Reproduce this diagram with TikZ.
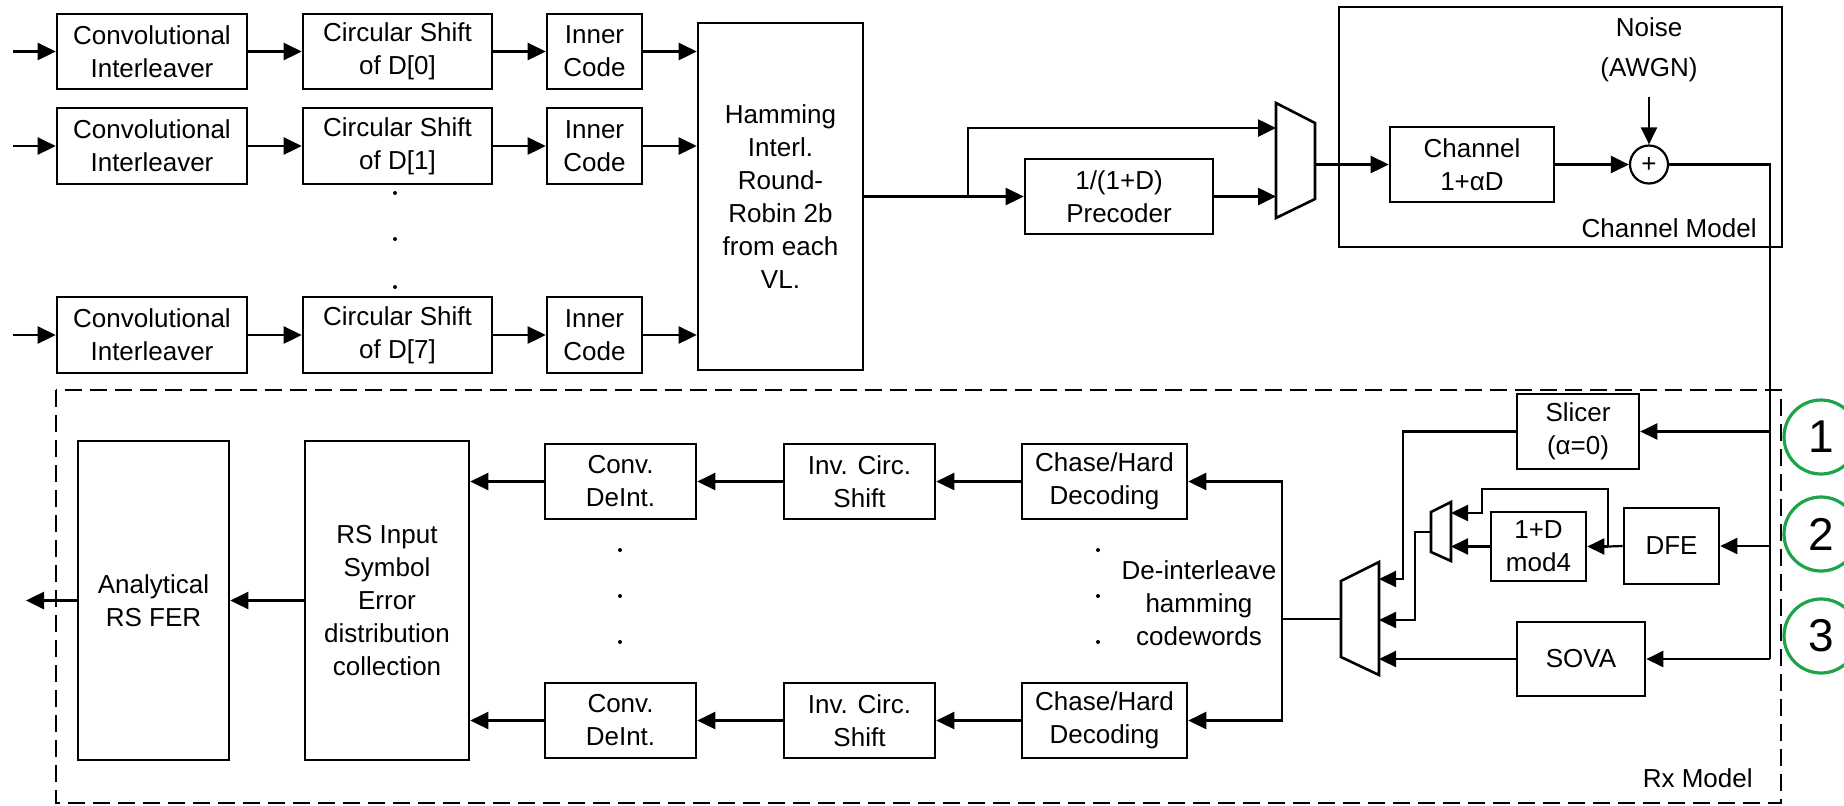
\documentclass[tikz,border=0pt]{standalone}
\usepackage{fontspec}
\setmainfont{Liberation Sans}
\usetikzlibrary{arrows.meta}
\newcommand\myfs{\fontsize{13}{16.5}\selectfont}
\newcommand\bigfs{\fontsize{23}{27}\selectfont}
\begin{document}
\begin{tikzpicture}[x=0.5pt,y=-0.5pt,
  blk/.style={draw,line width=1.3pt,inner sep=0pt,align=center,font=\myfs},
  wh/.style 2 args={minimum width={#1*0.5pt},minimum height={#2*0.5pt}},
  lbl/.style={inner sep=0pt,align=center,font=\myfs},
  ln/.style={line width=1.3pt},
  thin/.style={line width=1.1pt},
  ar/.style={line width=1.3pt,-{Triangle[length=9pt,width=8.5pt]}},
  art/.style={line width=1.1pt,-{Triangle[length=8.5pt,width=8pt]}},
  mux/.style={line width=1.3pt,line join=miter},
  num/.style={draw=numgreen,circle,line width=1.6pt,minimum size=37pt,inner sep=0pt,font=\bigfs},
  dot/.style={fill=black}]
\definecolor{numgreen}{RGB}{28,165,72}
\useasboundingbox (0,0) rectangle (1844,805);

% ---------------- transmitter rows
\node[blk,wh={190}{75}] (conv1) at (152,51.5) {Convolutional\\Interleaver};
\node[blk,wh={190}{76}] (conv2) at (152,146) {Convolutional\\Interleaver};
\node[blk,wh={190}{76}] (conv3) at (152,335) {Convolutional\\Interleaver};
\node[blk,wh={189}{75}] (cs1) at (397.5,51.5) {Circular Shift\\of D[0]};
\node[blk,wh={189}{76}] (cs2) at (397.5,146) {Circular Shift\\of D[1]};
\node[blk,wh={189}{76}] (cs3) at (397.5,335) {Circular Shift\\of D[7]};
\node[blk,wh={95}{75}] (ic1) at (594.5,51.5) {Inner\\Code};
\node[blk,wh={95}{76}] (ic2) at (594.5,146) {Inner\\Code};
\node[blk,wh={95}{76}] (ic3) at (594.5,335) {Inner\\Code};
\node[blk,wh={165}{347}] (ham) at (780.5,196.5) {Hamming\\Interl.\\Round-\\Robin 2b\\from each\\VL.};

\foreach \i in {1,2,3}{
  \coordinate (in\i) at (13,0 |- conv\i.west);
  \draw[ar] (in\i) -- (conv\i.west);
  \draw[ar] (conv\i.east) -- (cs\i.west);
  \draw[ar] (cs\i.east) -- (ic\i.west);
  \draw[ar] (ic\i.east) -- (ic\i.east -| ham.west);
}
\fill[dot] (395,193) circle (2);
\fill[dot] (395,239) circle (2);
\fill[dot] (395,287) circle (2);

% precoder and tx mux
\node[blk,wh={188}{75}] (prec) at (1119,196.5) {1/(1+D)\\Precoder};
\draw[mux] (1276,103) -- (1315,123) -- (1315,199) -- (1276,218) -- cycle;
\coordinate (mtA) at (1276,128);
\coordinate (mtB) at (1276,196.5);
\coordinate (mtO) at (1315,164.5);
\coordinate (br) at (968,196.5);
\draw[ln] (ham.east) -- (br);
\draw[ar] (br) -- (prec.west);
\draw[ar] (br) |- (mtA);
\draw[ar] (prec.east) -- (mtB);

% channel model
\node[draw,line width=1.3pt,inner sep=0pt,wh={443}{240}] (chm) at (1560.5,127) {};
\node[blk,wh={164}{75}] (chan) at (1472,164.5) {Channel\\1+αD};
\node[draw,circle,line width=1.1pt,minimum size=19pt,inner sep=0pt,font=\myfs] (sum) at (1649,164.5) {+};
\node[lbl] (noise) at (1649,50) {Noise\\[3.5pt](AWGN)};
\coordinate (nz) at (1649,97);
\node[lbl,anchor=east] (chmlbl) at (1757,228) {Channel Model};
\draw[ar] (mtO) -- (chan.west);
\draw[ar] (chan.east) -- (sum.west);
\draw[art] (nz) -- (sum.north);
\coordinate (tr) at (1770,164.5);
\coordinate (bt) at (1770,659);
\draw[ln] (sum.east) -- (tr) -- (bt);

% ---------------- receiver
\draw[dashed,line width=1.2pt,dash pattern=on 8.5pt off 4pt] (56,390) rectangle (1781,803);
\node[lbl,anchor=east] (rxlbl) at (1753,778) {Rx Model};

\node[blk,wh={122}{75}] (slicer) at (1578,431.5) {Slicer\\(α=0)};
\node[blk,wh={95}{76}] (dfe) at (1671.5,546) {DFE};
\node[blk,wh={95}{69}] (mod4) at (1538.5,546.5) {1+D\\mod4};
\node[blk,wh={128}{74}] (sova) at (1581,659) {SOVA};

\draw[art] (slicer.east -| tr) -- (slicer.east);
\draw[art] (dfe.east -| tr) -- (dfe.east);
\draw[art] (sova.east -| tr) -- (sova.east);

% big mux
\draw[mux] (1341,581) -- (1379,562) -- (1379,675) -- (1341,657) -- cycle;
\coordinate (mbA) at (1379,579);
\coordinate (mbB) at (1379,620);
\coordinate (mbC) at (1379,659);
\coordinate (mbO) at (1341,619);
% small mux
\draw[mux] (1431,512) -- (1451,502) -- (1451,561) -- (1431,552) -- cycle;
\coordinate (msA) at (1451,513);
\coordinate (msB) at (1451,546.5);
\coordinate (msO) at (1431,532);

\draw[art] (slicer.west) -| (1403,579) -- (mbA);
\draw[art] (msO) -| (1415,620) -- (mbB);
\draw[art] (sova.west) -- (mbC);
\coordinate (dj) at (1608,546.5);
\draw[thin] (dfe.west) -- (dj);
\draw[art] (dj) -- (mod4.east);
\draw[art] (dj) -- (1608,489) -| (1482,513) -- (msA);
\draw[art] (mod4.west) -- (msB);

% decoders
\node[blk,wh={165}{75}] (ch1) at (1104.5,481.5) {Chase/Hard\\Decoding};
\node[blk,wh={165}{75}] (ch2) at (1104.5,720.5) {Chase/Hard\\Decoding};
\node[blk,wh={151}{75}] (inv1) at (859.5,481.5) {Inv. Circ.\\Shift};
\node[blk,wh={151}{75}] (inv2) at (859.5,720.5) {Inv. Circ.\\Shift};
\node[blk,wh={151}{75}] (cd1) at (620.5,481.5) {Conv.\\DeInt.};
\node[blk,wh={151}{75}] (cd2) at (620.5,720.5) {Conv.\\DeInt.};
\node[blk,wh={164}{319}] (rs) at (387,600.5) {RS Input\\Symbol\\Error\\distribution\\collection};
\node[blk,wh={151}{319}] (an) at (153.5,600.5) {Analytical\\RS FER};
\node[lbl] (deint) at (1199,603) {De-interleave\\hamming\\codewords};

\coordinate (jn) at (1282,619);
\draw[ln] (mbO) -- (jn);
\draw[ar] (jn) |- (ch1.east);
\draw[ar] (jn) |- (ch2.east);
\draw[ar] (ch1.west) -- (inv1.east);
\draw[ar] (ch2.west) -- (inv2.east);
\draw[ar] (inv1.west) -- (cd1.east);
\draw[ar] (inv2.west) -- (cd2.east);
\draw[ar] (cd1.west) -- (cd1.west -| rs.east);
\draw[ar] (cd2.west) -- (cd2.west -| rs.east);
\draw[ar] (rs.west) -- (an.east);
\coordinate (outp) at (26,600.5);
\draw[ar] (an.west) -- (outp);

\foreach \yy in {550,596,642}{
  \fill[dot] (620,\yy) circle (2);
  \fill[dot] (1098,\yy) circle (2);
}

% green markers
\node[num] (n1) at (1821,437) {1};
\node[num] (n2) at (1821,534) {2};
\node[num] (n3) at (1821,636) {3};
\end{tikzpicture}
\end{document}
